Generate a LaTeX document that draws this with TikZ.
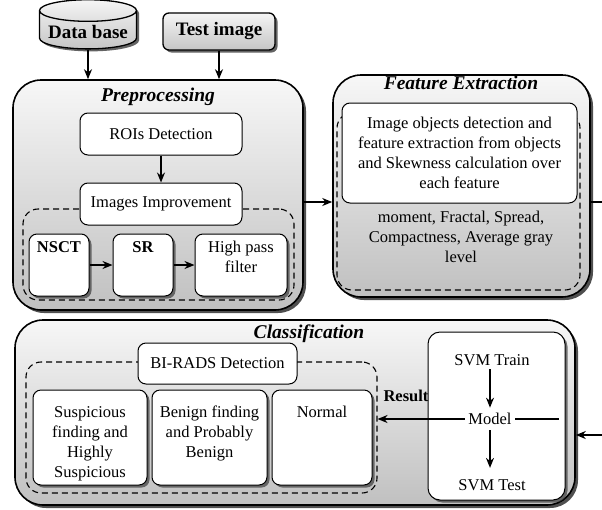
\documentclass[tikz,border=0pt]{standalone}
\usepackage{fontspec}
\setmainfont{Liberation Serif}
\usetikzlibrary{shapes.geometric, arrows.meta, positioning, fit, shadows, calc}
\definecolor{boxtop}{RGB}{247,247,247}
\definecolor{boxbottom}{RGB}{192,192,192}
\definecolor{shadowgray}{RGB}{60,60,60}

\tikzset{
  stage/.style={rounded corners=28pt, draw=black, line width=1.6pt,
    top color=boxtop, bottom color=boxbottom,
    drop shadow={shadow xshift=3pt, shadow yshift=-3pt, fill=shadowgray, opacity=0.9}},
  source/.style={draw=black, line width=1.3pt, top color=gray!8, bottom color=gray!45,
    font=\fontsize{19}{22}\selectfont\bfseries,
    drop shadow={shadow xshift=2.5pt, shadow yshift=-2.5pt, fill=shadowgray, opacity=0.8}},
  card/.style={rounded corners=8pt, draw=black, line width=1pt, fill=white,
    align=center, inner sep=6pt},
  cardshadow/.style={card,
    drop shadow={shadow xshift=2.5pt, shadow yshift=-2.5pt, fill=shadowgray, opacity=0.7}},
  topline/.style 2 args={text height=#1, text depth=#2},
  group/.style={rounded corners=15pt, draw=black, line width=1.1pt, dash pattern=on 6pt off 4pt},
  stagetitle/.style={font=\fontsize{19.5}{22}\selectfont\bfseries\itshape},
  flow/.style={-{Stealth[length=10pt,width=8pt]}, line width=1.5pt}
}

\begin{document}
\begin{tikzpicture}[x=1pt, y=-1pt, font=\fontsize{16.5}{20}\selectfont]
\useasboundingbox (0,0) rectangle (602,509);

% inputs
\node[source, cylinder, shape border rotate=90, aspect=0.25,
      minimum width=97pt, minimum height=41pt] (db) at (88,32) {Data base};
\node[source, rounded corners=6pt, minimum width=112pt, minimum height=37pt] (test)
  at (219,31.5) {Test image};

% preprocessing
\node[stage, minimum width=290pt, minimum height=230pt] (pre) at (158,195) {};
\node[stagetitle] (pretitle) at (158,97) {Preprocessing};
\node[group, minimum width=271pt, minimum height=91pt] (enh) at (158.5,254.5) {};
\node[card, minimum width=162pt, minimum height=42pt] (roi) at (161,134) {ROIs Detection};
\node[card, minimum width=162pt, minimum height=42pt] (imp) at (161,204) {Images Improvement};
\node[cardshadow, topline={12pt}{38pt}, minimum width=60pt] (nsct) at (59,265) {\textbf{NSCT}};
\node[cardshadow, topline={12pt}{38pt}, minimum width=60pt] (sr) at (143,265) {\textbf{SR}};
\node[cardshadow, topline={12pt}{38pt}, minimum width=92pt] (hpf) at (241,265)
  {\begin{tabular}[t]{@{}c@{}}High pass\\filter\end{tabular}};
\draw[flow] (roi) -- (imp);
\draw[flow] (nsct) -- (sr);
\draw[flow] (sr) -- (hpf);

% feature extraction
\node[stage, minimum width=257pt, minimum height=222pt] (fe) at (461.5,186) {};
\node[group, minimum width=243pt, minimum height=177pt] (feat) at (458.5,201.5) {};
\node[align=center] (featlist) at (461,237) {moment, Fractal, Spread,\\Compactness, Average gray\\level};
\node[card, minimum width=235pt, minimum height=100pt] (objects) at (459.5,153)
  {Image objects detection and\\feature extraction from objects\\and Skewness calculation over\\each feature};
\node[stagetitle] (fetitle) at (461,83) {Feature Extraction};

% classification
\node[stage, minimum width=560pt, minimum height=185pt] (cls) at (295,412.5) {};
\node[stagetitle] (clstitle) at (309,334) {Classification};
\node[group, minimum width=351pt, minimum height=131pt] (birads) at (201.5,427.5) {};
\node[card, minimum width=159pt, minimum height=41pt] (detect) at (217.5,363.5) {BI-RADS Detection};
\node[cardshadow, topline={21pt}{62pt}, minimum width=114pt] (susp) at (90,437.5)
  {\begin{tabular}[t]{@{}c@{}}Suspicious\\finding and\\Highly\\Suspicious\end{tabular}};
\node[cardshadow, topline={21pt}{62pt}, minimum width=115pt] (benign) at (209.5,437.5)
  {\begin{tabular}[t]{@{}c@{}}Benign finding\\and Probably\\Benign\end{tabular}};
\node[cardshadow, topline={21pt}{62pt}, minimum width=100pt] (normal) at (322,437.5) {Normal};
\node[cardshadow, rounded corners=12pt, minimum width=137pt, minimum height=168pt] (svm)
  at (496.5,416) {};
\node (train) at (492,360) {SVM Train};
\node (model) at (490,419) {Model};
\node (svmtest) at (492,485) {SVM Test};
\node[anchor=west] (result) at (380,396) {\textbf{Result}};
\draw[flow, shorten >=2pt] (train.south -| model) -- (model.north);
\draw[flow, shorten <=2pt, shorten >=8pt] (model.south) -- (svmtest.north -| model);
\draw[flow] (model.west) -- (model.west -| birads.east);
\draw[line width=1.3pt, shorten >=7pt] (model.east) -- (model.east -| svm.east);

% links between stages
\coordinate (edge) at (618,0);
\draw[flow] (db.south) -- (db.south |- pre.north);
\draw[flow] (test.south) -- (test.south |- pre.north);
\draw[flow] ([yshift=-7pt]pre.east) -- ([yshift=-7pt]pre.east -| fe.west);
\draw[flow] ([yshift=-16pt]fe.east) -- ([yshift=-16pt]fe.east -| edge) |- ([yshift=-22.5pt]cls.east);
\end{tikzpicture}
\end{document}
